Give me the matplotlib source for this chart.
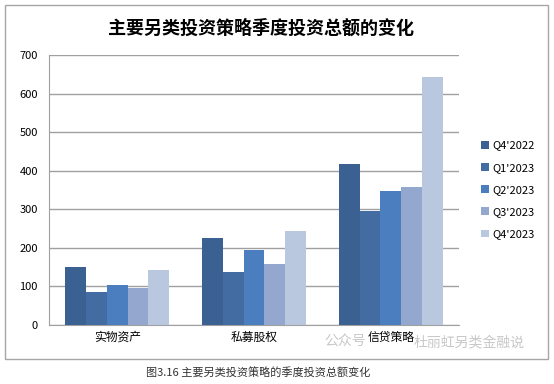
import numpy as np
import matplotlib
matplotlib.use('Agg')
import matplotlib.pyplot as plt
from matplotlib.patches import Rectangle

plt.rcParams['font.family'] = ['Noto Sans CJK SC', 'DejaVu Sans']

# data
categories = ['实物资产', '私募股权', '信贷策略']
quarters = ["Q4'2022", "Q1'2023", "Q2'2023", "Q3'2023", "Q4'2023"]
q4_2022 = [151, 225, 418]
q1_2023 = [85, 137, 296]
q2_2023 = [104, 194, 347]
q3_2023 = [96, 158, 359]
q4_2023 = [143, 245, 644]
series = [q4_2022, q1_2023, q2_2023, q3_2023, q4_2023]
colors = ['#3b6092', '#436ca3', '#4b7ebf', '#94a8cf', '#b9c7df']

fig = plt.figure(figsize=(5.54, 3.84), dpi=100)
ax = fig.add_axes([49/554, 59/384, 410/554, 270/384])

# outer frame of the chart
fig.patches.append(Rectangle((5/554, 25/384), 543/554, 354/384, transform=fig.transFigure,
                             fill=False, edgecolor='#a6a6a6', linewidth=1.0))

x = np.arange(len(categories))
w = 0.152
for i, vals in enumerate(series):
    ax.bar(x + (i - 2) * w, vals, width=w, color=colors[i], label=quarters[i], zorder=3)

ax.set_xlim(-0.5, 2.5)
ax.set_ylim(0, 700)
ax.set_yticks(range(0, 701, 100))
ax.set_xticks(x)
ax.set_xticklabels(categories, fontsize=8.5)
ax.tick_params(axis='y', labelsize=8, length=0, pad=8)
ax.tick_params(axis='x', length=0, pad=4)
ax.grid(axis='y', color='#a0a0a0', linewidth=1.0, zorder=0)
for s in ['top', 'right']:
    ax.spines[s].set_visible(False)
ax.spines['left'].set_color('#a0a0a0')
ax.spines['bottom'].set_color('#a0a0a0')

fig.text(261/554, 1 - 28/384, '主要另类投资策略季度投资总额的变化', ha='center', va='center',
         fontsize=13, fontweight='bold')

leg = ax.legend(loc='center left', bbox_to_anchor=(1.03, 0.5), frameon=False, fontsize=8,
                handlelength=0.7, handleheight=0.7, handletextpad=0.3, labelspacing=1.1)

# watermark, split around the category label it sits behind
fig.text(366/554, 1 - 342/384, '公众号', ha='right', va='center',
         fontsize=10, color='#c8c8c8', zorder=0)
fig.text(414/554, 1 - 342/384, '杜丽虹另类金融说', ha='left', va='center',
         fontsize=10, color='#c8c8c8', zorder=0)

fig.text(258/554, 1 - 373/384, '图3.16 主要另类投资策略的季度投资总额变化', ha='center', va='center',
         fontsize=8, color='#333333')

fig.savefig('out.png', dpi=100)
